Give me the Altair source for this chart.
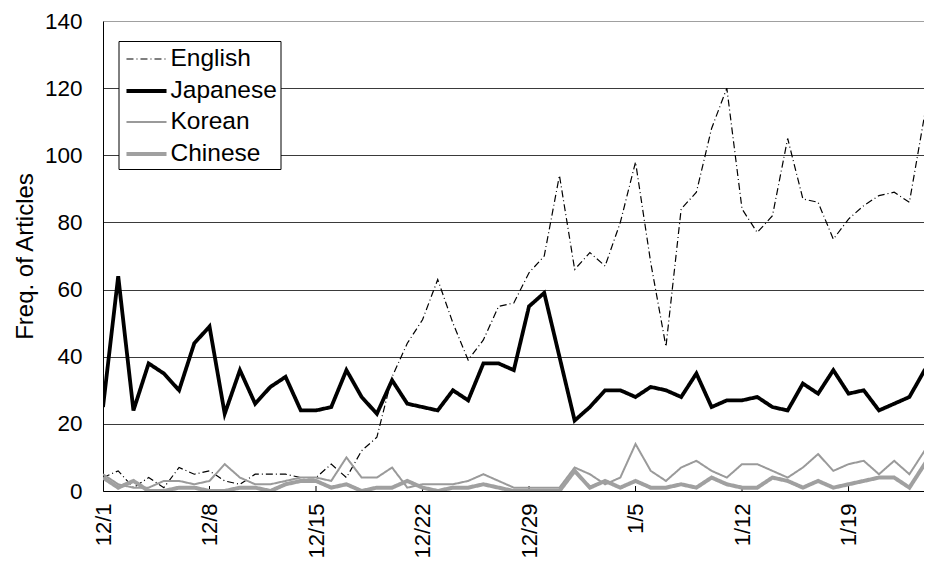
import altair as alt
import pandas as pd

# ---- data ----
tick_labels = ["12/1", "12/8", "12/15", "12/22", "12/29", "1/5", "1/12", "1/19"]
languages = ["English", "Japanese", "Korean", "Chinese"]
days = list(range(56))  # day 0 = 12/1

english = [4, 6, 1, 4, 1, 7, 5, 6, 3, 2,
           5, 5, 5, 4, 4, 8, 4, 12, 16, 34,
           44, 51, 63, 50, 39, 45, 55, 56, 65, 70,
           94, 66, 71, 67, 80, 98, 68, 43, 84, 89,
           108, 120, 84, 77, 82, 105, 87, 86, 75, 81,
           85, 88, 89, 86, 112, 90]
japanese = [25, 64, 24, 38, 35, 30, 44, 49, 23, 36,
            26, 31, 34, 24, 24, 25, 36, 28, 23, 33,
            26, 25, 24, 30, 27, 38, 38, 36, 55, 59,
            40, 21, 25, 30, 30, 28, 31, 30, 28, 35,
            25, 27, 27, 28, 25, 24, 32, 29, 36, 29,
            30, 24, 26, 28, 36, 37]
korean = [5, 2, 1, 1, 3, 3, 2, 3, 8, 4,
          2, 2, 3, 4, 4, 3, 10, 4, 4, 7,
          1, 2, 2, 2, 3, 5, 3, 1, 1, 1,
          1, 7, 5, 2, 4, 14, 6, 3, 7, 9,
          6, 4, 8, 8, 6, 4, 7, 11, 6, 8,
          9, 5, 9, 5, 12, 10]
chinese = [4, 1, 3, 0, 0, 1, 1, 0, 0, 1,
           1, 0, 2, 3, 3, 1, 2, 0, 1, 1,
           3, 1, 0, 1, 1, 2, 1, 0, 0, 0,
           0, 6, 1, 3, 1, 3, 1, 1, 2, 1,
           4, 2, 1, 1, 4, 3, 1, 3, 1, 2,
           3, 4, 4, 1, 8, 2]

rows = []
for lang, vals in zip(languages, [english, japanese, korean, chinese]):
    for d, v in zip(days, vals):
        rows.append({"day": d, "freq": v, "lang": lang})
df = pd.DataFrame(rows)

tick_days = [7 * i for i in range(len(tick_labels))]
ticks_df = pd.DataFrame({"day": tick_days[1:]})

FONT = "Liberation Sans"

x_scale = alt.Scale(domain=[0, 53.96], nice=False, zero=False)
y_scale = alt.Scale(domain=[0, 140], nice=False, zero=True)

label_expr = "[" + ",".join(f"'{t}'" for t in tick_labels) + "][round(datum.value / 7)]"

x_axis = alt.Axis(
    values=tick_days, labelExpr=label_expr, labelAngle=270, labelFont=FONT,
    labelFontSize=22, labelColor="black", labelPadding=12, ticks=False,
    grid=False, title=None, domainColor="black", domainWidth=1,
)
y_axis = alt.Axis(
    values=list(range(0, 141, 20)), labelFont=FONT, labelFontSize=22.5,
    labelColor="black", labelPadding=21, ticks=False, domainColor="black",
    domainWidth=1, grid=True,
    gridColor={"condition": {"test": "datum.value === 140", "value": "#a0a0a0"},
               "value": "#3a3a3a"},
    gridWidth=1, title="Freq. of Articles", titleFont=FONT, titleFontSize=24,
    titleFontWeight="normal", titleColor="black", titlePadding=7,
)

legend = alt.Legend(
    orient="none", legendX=15.5, legendY=20, title=None,
    symbolType="M-1.43,0H1.43", symbolSize=784, symbolOffset=9,
    labelOffset=8, rowPadding=4, padding=3, strokeColor="black",
    fillColor="white", labelFont=FONT, labelFontSize=24.5, labelColor="black",
    symbolFillColor="transparent", labelExpr="datum.label + '\u00a0'",
)

lines = alt.Chart(df).mark_line(clip=True, strokeJoin="miter").encode(
    x=alt.X("day:Q", scale=x_scale, axis=x_axis),
    y=alt.Y("freq:Q", scale=y_scale, axis=y_axis),
    color=alt.Color("lang:N", sort=languages,
                    scale=alt.Scale(domain=languages,
                                    range=["#000000", "#000000", "#9a9a9a", "#a0a0a0"]),
                    legend=legend),
    strokeDash=alt.StrokeDash("lang:N", sort=languages,
                              scale=alt.Scale(domain=languages,
                                              range=[[7, 3, 1, 3], [1, 0], [1, 0], [1, 0]]),
                              legend=legend),
    strokeWidth=alt.StrokeWidth("lang:N", sort=languages,
                                scale=alt.Scale(type="ordinal", domain=languages,
                                                range=[1.2, 3.8, 2, 4]),
                                legend=legend),
)

xticks = alt.Chart(ticks_df).mark_rule(color="black", strokeWidth=1).encode(
    x=alt.X("day:Q", scale=x_scale, axis=x_axis),
    y=alt.value(470),
    y2=alt.value(465),
)

chart = alt.layer(xticks, lines).properties(
    width=821, height=470,
    padding={"left": 95, "top": 13, "right": 0, "bottom": 70},
    autosize="none", background="white",
).configure_view(stroke=None)

chart.save("out.html", embed_options={"renderer": "svg", "actions": False})
